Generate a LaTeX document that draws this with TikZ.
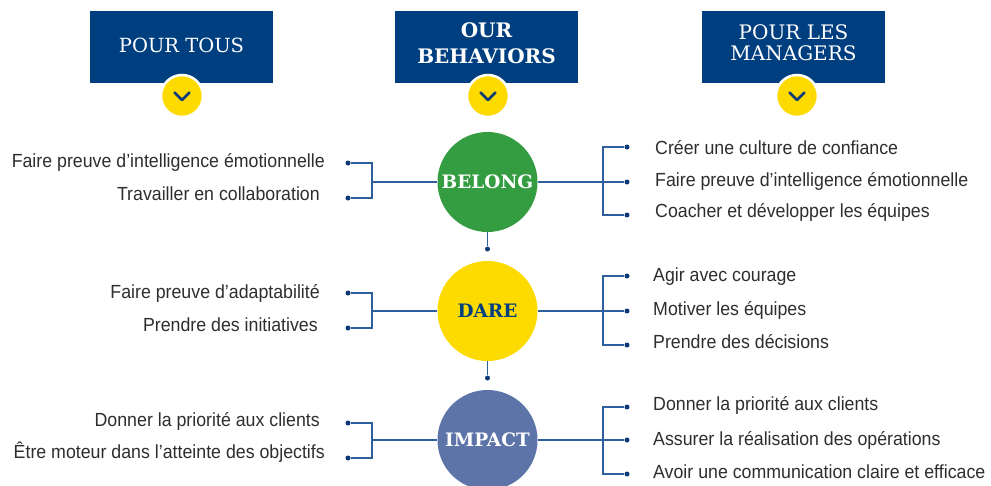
\documentclass[tikz,border=0pt]{standalone}
\usepackage{fontspec}
\setmainfont{Liberation Sans}[FakeStretch=0.935]
\newfontfamily\slab{DejaVu Serif}
\definecolor{boxblue}{HTML}{003F7F}
\definecolor{yel}{HTML}{FDDB00}
\definecolor{grn}{HTML}{349C41}
\definecolor{imp}{HTML}{5D74A8}
\definecolor{lnblue}{HTML}{2F5E9C}
\definecolor{navy}{HTML}{0C3A78}
\definecolor{txt}{HTML}{2E2E2E}
\begin{document}
\begin{tikzpicture}[x=1pt,y=-1pt,
  hdrbox/.style={fill=boxblue, minimum width=183pt, minimum height=72pt, inner sep=0pt},
  hdrtxt/.style={text=white, align=center, inner sep=0pt},
  chev/.style={circle, fill=yel, draw=white, line width=2.5pt, minimum size=42pt, inner sep=0pt},
  chevline/.style={draw=navy, line width=2.6pt, line cap=round, line join=round},
  bub/.style={circle, minimum size=100pt, inner sep=0pt, font=\slab\bfseries\fontsize{18.5}{18.5}\selectfont},
  ln/.style={draw=lnblue, line width=1.3pt},
  dotn/.style={circle, fill=navy, inner sep=0pt, minimum size=5pt},
  lt/.style={anchor=east, text=txt, inner sep=0pt, font=\fontsize{19}{19}\selectfont},
  rt/.style={anchor=west, text=txt, inner sep=0pt, font=\fontsize{19}{19}\selectfont}]
\useasboundingbox (0,0) rectangle (991,485);
\fill[white] (0,0) rectangle (991,485);

% headers
\node[hdrbox] (h1) at (181.5,47) {};
\node[hdrbox] (h2) at (486.5,47) {};
\node[hdrbox] (h3) at (793.5,47) {};
\node[hdrtxt, font=\slab\fontsize{19.5}{19.5}\selectfont] (t1) at (181.5,45.5) {POUR TOUS};
\node[hdrtxt, font=\slab\bfseries\fontsize{20}{26}\selectfont] (t2) at (486.5,43) {OUR\\BEHAVIORS};
\node[hdrtxt, font=\slab\fontsize{20}{21}\selectfont] (t3) at (793.5,42.5) {POUR LES\\MANAGERS};

% chevrons
\node[chev] (c1) at (182,96) {};
\node[chev] (c2) at (488,96) {};
\node[chev] (c3) at (797,96) {};
\foreach \c in {c1,c2,c3}{
  \draw[chevline] ([shift={(-7.5,-3.5)}]\c.center) -- ([shift={(0,4)}]\c.center) -- ([shift={(7.5,-3.5)}]\c.center);
}

% circles
\node[bub, fill=grn, text=white] (belong) at (487.5,182) {BELONG};
\node[bub, fill=yel, text=boxblue] (dare) at (487.5,311) {DARE};
\node[bub, fill=imp, text=white] (impact) at (487.5,440) {IMPACT};

% vertical connectors
\node[dotn] (v1) at (487.5,249) {};
\node[dotn] (v2) at (487.5,378) {};
\draw[ln] (belong) -- (v1);
\draw[ln] (dare) -- (v2);

% ---- BELONG
\node[dotn] (la1) at (348,163) {};
\node[dotn] (lb1) at (348,198) {};
\coordinate (bl1) at (372,182);
\draw[ln] (la1) -| (bl1);
\draw[ln] (lb1) -| (bl1);
\draw[ln] (bl1) -- (belong);
\node[dotn] (ra1) at (627,147) {};
\node[dotn] (rb1) at (627,182) {};
\node[dotn] (rc1) at (627,215) {};
\coordinate (br1) at (603,182);
\draw[ln] (belong) -- (rb1);
\draw[ln] (ra1) -| (br1);
\draw[ln] (rc1) -| (br1);
\node[lt] (tla1) at (325,162) {Faire preuve d'intelligence émotionnelle};
\node[lt] (tlb1) at (320,194) {Travailler en collaboration};
\node[rt] (tra1) at (655,148) {Créer une culture de confiance};
\node[rt] (trb1) at (655,181) {Faire preuve d’intelligence émotionnelle};
\node[rt] (trc1) at (655,212) {Coacher et développer les équipes};

% ---- DARE
\node[dotn] (la2) at (348,293) {};
\node[dotn] (lb2) at (348,328) {};
\coordinate (bl2) at (372,311);
\draw[ln] (la2) -| (bl2);
\draw[ln] (lb2) -| (bl2);
\draw[ln] (bl2) -- (dare);
\node[dotn] (ra2) at (627,276) {};
\node[dotn] (rb2) at (627,311) {};
\node[dotn] (rc2) at (627,345) {};
\coordinate (br2) at (603,311);
\draw[ln] (dare) -- (rb2);
\draw[ln] (ra2) -| (br2);
\draw[ln] (rc2) -| (br2);
\node[lt] (tla2) at (320,293) {Faire preuve d’adaptabilité};
\node[lt] (tlb2) at (318,325) {Prendre des initiatives};
\node[rt] (tra2) at (653,277) {Agir avec courage};
\node[rt] (trb2) at (653,310) {Motiver les équipes};
\node[rt] (trc2) at (653,342) {Prendre des décisions};

% ---- IMPACT
\node[dotn] (la3) at (348,423) {};
\node[dotn] (lb3) at (348,458) {};
\coordinate (bl3) at (372,440);
\draw[ln] (la3) -| (bl3);
\draw[ln] (lb3) -| (bl3);
\draw[ln] (bl3) -- (impact);
\node[dotn] (ra3) at (627,407) {};
\node[dotn] (rb3) at (627,440) {};
\node[dotn] (rc3) at (627,474) {};
\coordinate (br3) at (603,440);
\draw[ln] (impact) -- (rb3);
\draw[ln] (ra3) -| (br3);
\draw[ln] (rc3) -| (br3);
\node[lt] (tla3) at (320,421) {Donner la priorité aux clients};
\node[lt] (tlb3) at (325,452) {Être moteur dans l’atteinte des objectifs};
\node[rt] (tra3) at (653,405) {Donner la priorité aux clients};
\node[rt] (trb3) at (653,440) {Assurer la réalisation des opérations};
\node[rt] (trc3) at (653,472) {Avoir une communication claire et efficace};
\end{tikzpicture}
\end{document}
